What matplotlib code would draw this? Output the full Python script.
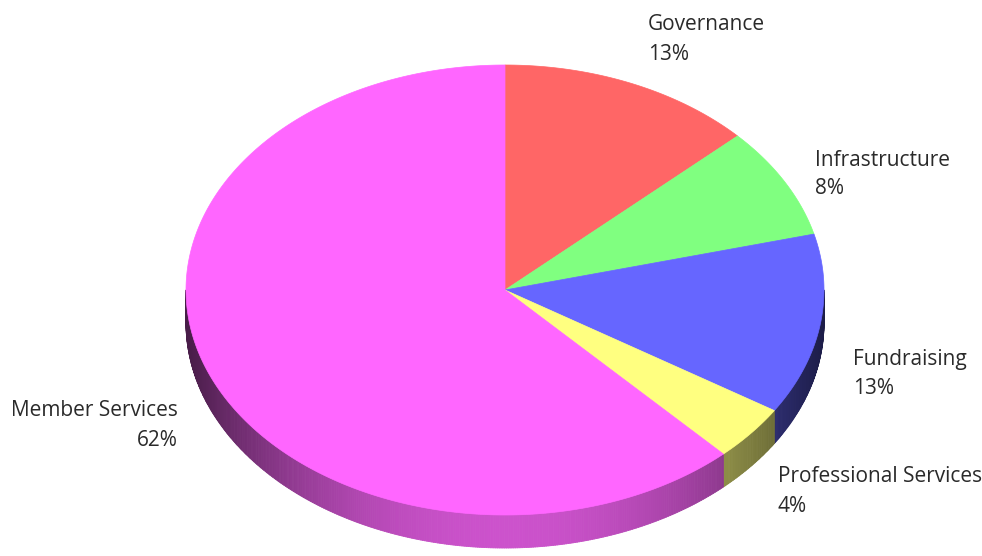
import numpy as np
import matplotlib
matplotlib.use("Agg")
import matplotlib.pyplot as plt
from matplotlib.patches import Polygon
from matplotlib.collections import PolyCollection
from matplotlib.colors import to_rgb

# ---- data ----
categories = ["Governance", "Infrastructure", "Fundraising", "Professional Services", "Member Services"]
values = [13, 8, 13, 4, 62]
colors = ["#ff6666", "#80ff80", "#6666ff", "#ffff80", "#ff66ff"]

# ---- layout (pixel coords) ----
W, H = 982, 556
cx, cy = 505, 290
rx, ry = 319, 225
depth = 33
label_pos = [(648, 25, "left"), (815, 160, "left"), (853, 359, "left"),
             (778, 477, "left"), (178, 411, "right")]
line_gap = 29

fig = plt.figure(figsize=(W / 100, H / 100), dpi=100)
ax = fig.add_axes([0, 0, 1, 1])
ax.set_xlim(0, W)
ax.set_ylim(H, 0)
ax.axis("off")

total = float(sum(values))
cum = np.concatenate([[0], np.cumsum(values)]) / total * 360.0


def pt(theta_deg, dy=0.0):
    t = np.radians(theta_deg)
    return cx + rx * np.sin(t), cy - ry * np.cos(t) + dy


def shade(x):
    u = (x - cx) / rx
    return 0.28 + 0.52 * (1 - u ** 2)


# sides (front half: 90..270 deg)
polys, fcs = [], []
for i, (a0, a1) in enumerate(zip(cum[:-1], cum[1:])):
    s0, s1 = max(a0, 90), min(a1, 270)
    if s1 <= s0:
        continue
    n = max(2, int((s1 - s0) / 0.4))
    th = np.linspace(s0, s1, n + 1)
    base = np.array(to_rgb(colors[i]))
    for k in range(n):
        x0, y0 = pt(th[k])
        x1, y1 = pt(th[k + 1])
        polys.append([(x0, y0), (x1, y1), (x1, y1 + depth), (x0, y0 + depth)])
        f = shade((x0 + x1) / 2)
        fcs.append(np.clip(base * f, 0, 1))
pc = PolyCollection(polys, facecolors=fcs, edgecolors=fcs, linewidths=0.6)
ax.add_collection(pc)

# top faces
for i, (a0, a1) in enumerate(zip(cum[:-1], cum[1:])):
    th = np.linspace(a0, a1, max(3, int((a1 - a0) * 2)))
    xs, ys = pt(th)
    verts = [(cx, cy)] + list(zip(xs, ys))
    ax.add_patch(Polygon(verts, closed=True, facecolor=colors[i],
                         edgecolor=colors[i], linewidth=0.5))

# labels
for i, (lx, ly, ha) in enumerate(label_pos):
    kw = dict(fontsize=15, family=["Open Sans", "DejaVu Sans"], color="#2a2a2a",
              ha=ha, va="center")
    ax.text(lx, ly, categories[i], **kw)
    ax.text(lx, ly + line_gap, f"{values[i] / total * 100:.0f}%", **kw)

fig.savefig("out.png", dpi=100)
